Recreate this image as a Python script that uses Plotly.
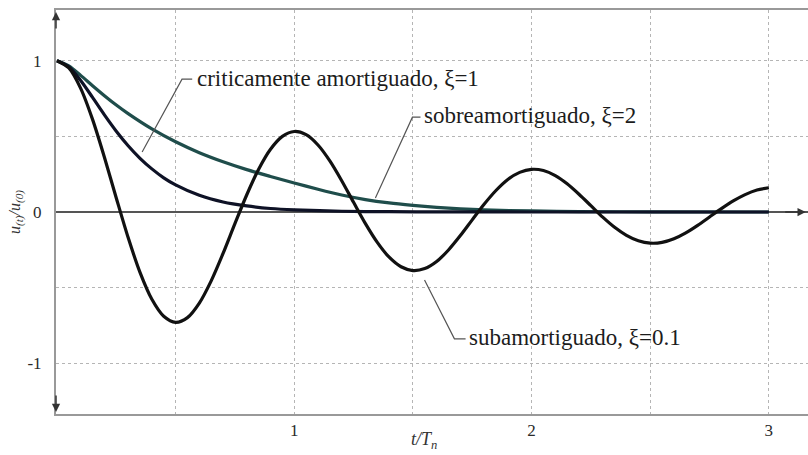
import plotly.graph_objects as go

# ---- data ----
t_sub = [0.0, 0.05, 0.1, 0.15, 0.2, 0.25, 0.3, 0.35, 0.4, 0.45, 0.5, 0.55, 0.6, 0.65, 0.7, 0.75,
         0.8, 0.85, 0.9, 0.95, 1.0, 1.05, 1.1, 1.15, 1.2, 1.25, 1.3, 1.35, 1.4, 1.45, 1.5, 1.55,
         1.6, 1.65, 1.7, 1.75, 1.8, 1.85, 1.9, 1.95, 2.0, 2.05, 2.1, 2.15, 2.2, 2.25, 2.3, 2.35,
         2.4, 2.45, 2.5, 2.55, 2.6, 2.65, 2.7, 2.75, 2.8, 2.85, 2.9, 2.95, 3.0]
u_sub = [1.000, 0.952, 0.817, 0.612, 0.362, 0.093, -0.169, -0.399, -0.577, -0.689, -0.729, -0.698,
         -0.602, -0.455, -0.274, -0.077, 0.114, 0.283, 0.415, 0.500, 0.532, 0.511, 0.443, 0.338,
         0.207, 0.064, -0.077, -0.201, -0.299, -0.362, -0.387, -0.374, -0.327, -0.251, -0.156,
         -0.052, 0.051, 0.142, 0.215, 0.262, 0.282, 0.274, 0.240, 0.186, 0.117, 0.042, -0.034,
         -0.101, -0.154, -0.190, -0.206, -0.201, -0.177, -0.138, -0.088, -0.033, 0.022, 0.073,
         0.115, 0.145, 0.160]

t_crit = [0.0, 0.05, 0.1, 0.15, 0.2, 0.25, 0.3, 0.35, 0.4, 0.45, 0.5, 0.6, 0.7, 0.8, 0.9, 1.0,
          1.2, 1.4, 1.6, 2.0, 2.5, 3.0]
u_crit = [1.0, 0.960, 0.869, 0.757, 0.642, 0.534, 0.438, 0.355, 0.285, 0.226, 0.179, 0.110,
          0.066, 0.040, 0.023, 0.014, 0.005, 0.002, 0.001, 0.0, 0.0, 0.0]

t_sobre = [0.0, 0.05, 0.1, 0.15, 0.2, 0.25, 0.3, 0.4, 0.5, 0.6, 0.7, 0.8, 0.9, 1.0, 1.1, 1.2,
           1.3, 1.4, 1.5, 1.6, 1.7, 1.8, 2.0, 2.2, 2.5, 3.0]
u_sobre = [1.0, 0.966, 0.903, 0.835, 0.769, 0.707, 0.650, 0.549, 0.464, 0.392, 0.332, 0.280,
           0.235, 0.192, 0.150, 0.112, 0.082, 0.060, 0.044, 0.031, 0.021, 0.014, 0.007, 0.003,
           0.001, 0.0]

x_tickvals = [0.5, 1, 1.5, 2, 2.5, 3]
x_ticktext = ["", "1", "", "2", "", "3"]
y_tickvals = [-1, -0.5, 0, 0.5, 1]
y_ticktext = ["-1", "", "0", "", "1"]

label_crit = "criticamente amortiguado, ξ=1"
label_sobre = "sobreamortiguado, ξ=2"
label_sub = "subamortiguado, ξ=0.1"

SERIF = "Liberation Serif, Times New Roman, serif"
LABEL_FONT = dict(family=SERIF, size=23, color="#1c1c1c")

fig = go.Figure()
fig.add_trace(go.Scatter(x=t_sobre, y=u_sobre, mode="lines",
                         line=dict(color="#1f4d4b", width=3.2, shape="spline", smoothing=0.8)))
fig.add_trace(go.Scatter(x=t_crit, y=u_crit, mode="lines",
                         line=dict(color="#0e1226", width=3.2, shape="spline", smoothing=0.8)))
fig.add_trace(go.Scatter(x=t_sub, y=u_sub, mode="lines",
                         line=dict(color="#111111", width=3.2, shape="spline", smoothing=0.8)))

# leader lines for the labels
leaders = [
    [(0.359, 0.396), (0.527, 0.878), (0.570, 0.878)],
    [(1.342, 0.092), (1.498, 0.627), (1.532, 0.627)],
    [(1.549, -0.449), (1.675, -0.838), (1.722, -0.838)],
]
for pts in leaders:
    path = "M " + " L ".join(f"{x},{y}" for x, y in pts)
    fig.add_shape(type="path", path=path, xref="x", yref="y",
                  line=dict(color="#555555", width=1.2))

fig.add_annotation(x=0.580, y=0.884, text=label_crit, showarrow=False, xanchor="left",
                   yanchor="middle", font=LABEL_FONT)
fig.add_annotation(x=1.540, y=0.640, text=label_sobre, showarrow=False, xanchor="left",
                   yanchor="middle", font=LABEL_FONT)
fig.add_annotation(x=1.730, y=-0.830, text=label_sub, showarrow=False, xanchor="left",
                   yanchor="middle", font=LABEL_FONT)

# x-axis title
fig.add_annotation(xref="paper", yref="paper", x=0.49, y=-0.065, text="<i>t/T<sub>n</sub></i>",
                   showarrow=False, xanchor="center", yanchor="middle",
                   font=dict(family=SERIF, size=18, color="#333333"))

# axis arrows
arrow_style = dict(text="", showarrow=True, arrowhead=2, arrowsize=1.1, arrowwidth=1.5,
                   arrowcolor="#333333")
fig.add_annotation(xref="paper", yref="paper", x=0, y=0.995, ax=0, ay=18, **arrow_style)
fig.add_annotation(xref="paper", yref="paper", x=0, y=0.005, ax=0, ay=-18, **arrow_style)
fig.add_annotation(xref="paper", yref="y", x=0.997, y=0, ax=-22, ay=0, **arrow_style)

fig.update_layout(
    width=808, height=455,
    margin=dict(l=56, r=0, t=10, b=41),
    paper_bgcolor="white", plot_bgcolor="white",
    showlegend=False,
    font=dict(family=SERIF, size=17, color="#2a2a2a"),
    xaxis=dict(range=[-0.004, 3.165], tickvals=x_tickvals, ticktext=x_ticktext,
               showgrid=True, gridcolor="#b5b5b5", griddash="dot", gridwidth=1,
               showline=True, mirror=True, linecolor="#999999", linewidth=2,
               zeroline=False, ticks="", ticklabelstandoff=0),
    yaxis=dict(range=[-1.335, 1.335], tickvals=y_tickvals, ticktext=y_ticktext,
               showgrid=True, gridcolor="#b5b5b5", griddash="dot", gridwidth=1,
               showline=True, linecolor="#999999", linewidth=2,
               zeroline=True, zerolinecolor="#555555", zerolinewidth=1.5,
               ticks="", ticklabelstandoff=9,
               title=dict(text="<i>u<sub>(t)</sub>/u<sub>(0)</sub></i>", standoff=3,
                          font=dict(family=SERIF, size=16, color="#333333"))),
)

fig.write_html("out.html")
